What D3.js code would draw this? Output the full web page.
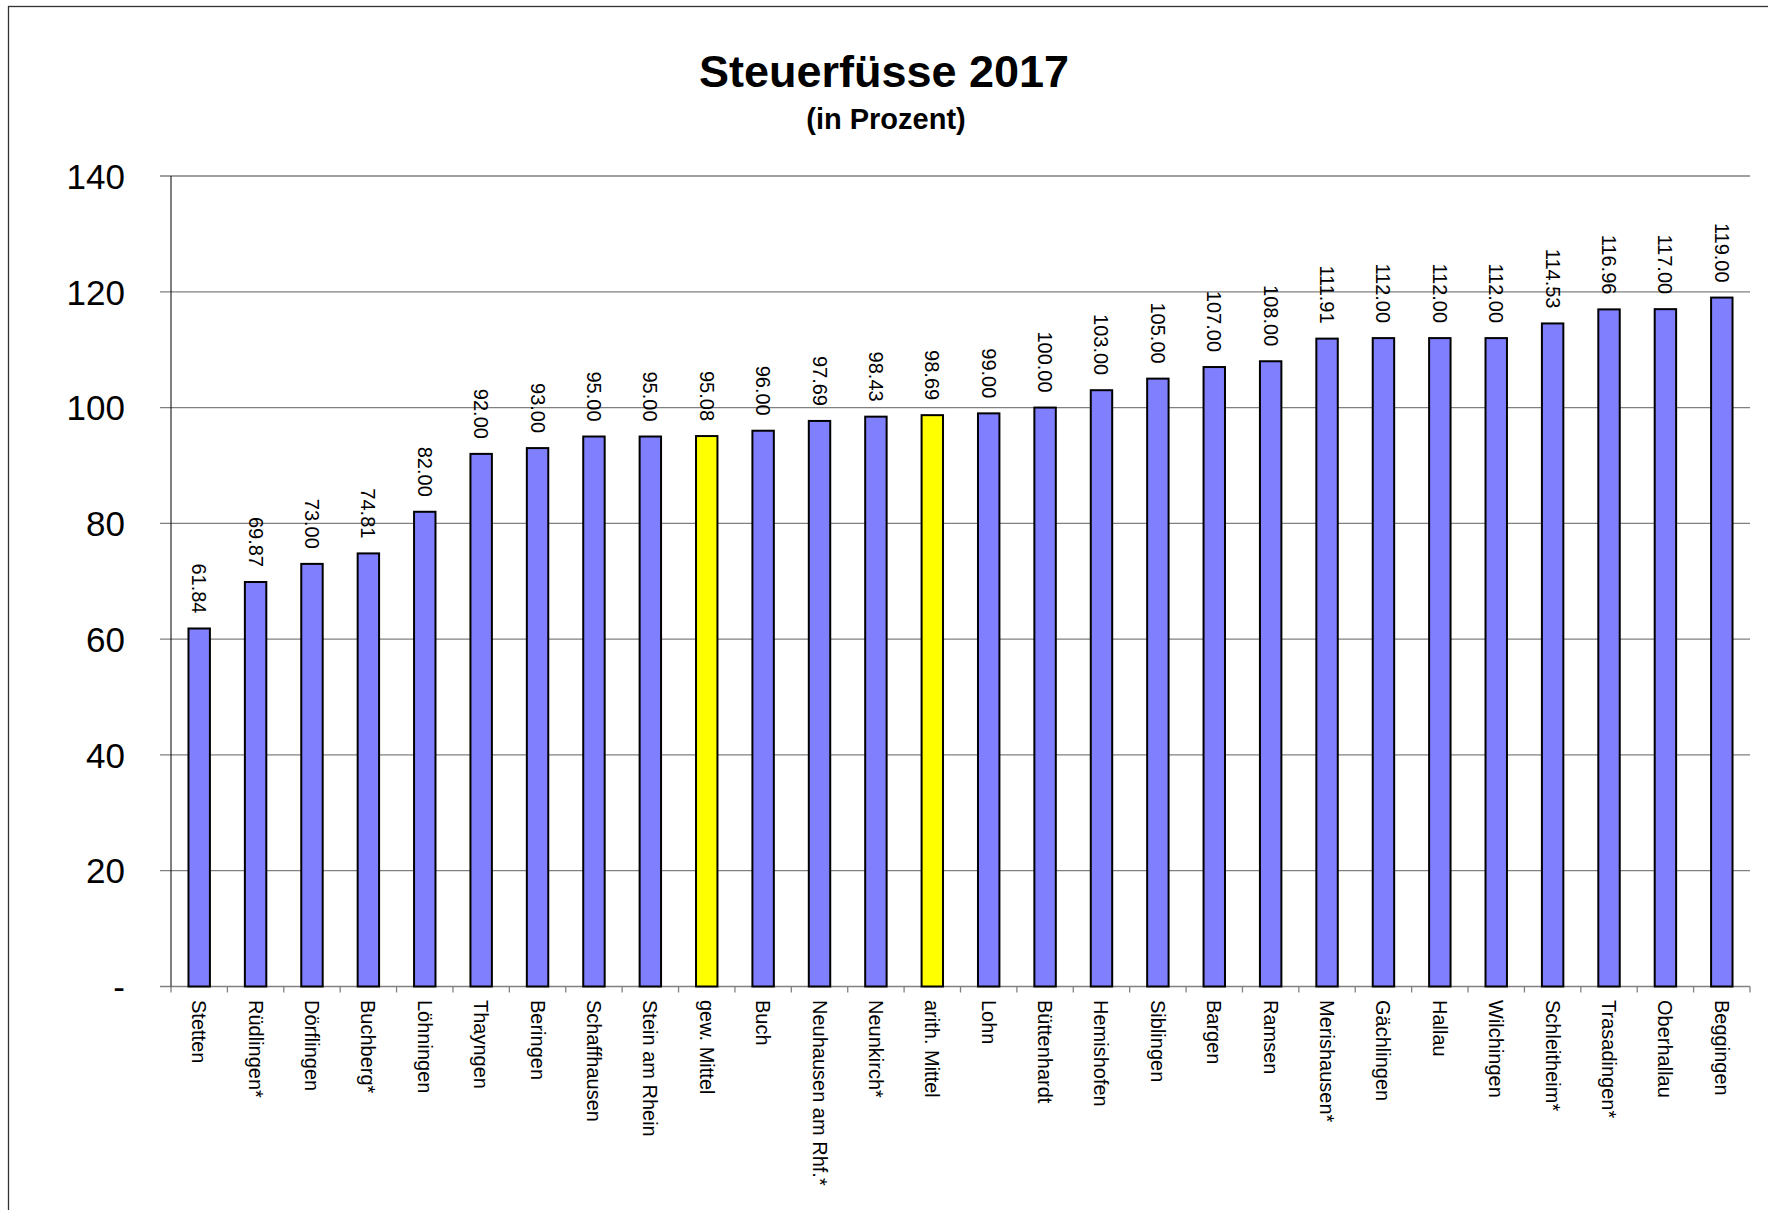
<!DOCTYPE html>
<html>
<head>
<meta charset="utf-8">
<script src="https://cdn.jsdelivr.net/npm/d3@7"></script>
<style>
  body { margin: 0; background: #fff; }
  text { font-family: "Liberation Sans", Arial, sans-serif; fill: #000; }
</style>
</head>
<body>
<svg id="chart" width="1768" height="1210"></svg>
<script>
const gemeinden = [
  "Stetten", "Rüdlingen*", "Dörflingen", "Buchberg*", "Löhningen", "Thayngen",
  "Beringen", "Schaffhausen", "Stein am Rhein", "gew. Mittel", "Buch",
  "Neuhausen am Rhf.*", "Neunkirch*", "arith. Mittel", "Lohn", "Büttenhardt",
  "Hemishofen", "Siblingen", "Bargen", "Ramsen", "Merishausen*", "Gächlingen",
  "Hallau", "Wilchingen", "Schleitheim*", "Trasadingen*", "Oberhallau", "Beggingen"
];
const steuerfuss = [
  61.84, 69.87, 73.00, 74.81, 82.00, 92.00,
  93.00, 95.00, 95.00, 95.08, 96.00,
  97.69, 98.43, 98.69, 99.00, 100.00,
  103.00, 105.00, 107.00, 108.00, 111.91, 112.00,
  112.00, 112.00, 114.53, 116.96, 117.00, 119.00
];
const mittelwerte = ["gew. Mittel", "arith. Mittel"]; // yellow bars
const yTicks = [0, 20, 40, 60, 80, 100, 120, 140];

const svg = d3.select("#chart");

const plotLeft = 171, plotRight = 1750, plotTop = 176, plotBottom = 986.5;

const x = d3.scaleBand().domain(gemeinden).range([plotLeft, plotRight]).padding(0);
const y = d3.scaleLinear().domain([0, 140]).range([plotBottom, plotTop]);

// outer frame (runs off the page on right and bottom)
svg.append("rect")
  .attr("x", 8.5).attr("y", 6.5)
  .attr("width", 1800).attr("height", 1300)
  .attr("fill", "none")
  .attr("stroke", "#333")
  .attr("stroke-width", 1.3);

// title
svg.append("text")
  .attr("x", 884).attr("y", 87)
  .attr("text-anchor", "middle")
  .style("font-size", "45px").style("font-weight", "bold")
  .text("Steuerfüsse 2017");
svg.append("text")
  .attr("x", 886).attr("y", 129)
  .attr("text-anchor", "middle")
  .style("font-size", "29px").style("font-weight", "bold")
  .text("(in Prozent)");

// gridlines
svg.append("g").selectAll("line")
  .data(yTicks)
  .join("line")
  .attr("x1", 160).attr("x2", plotRight)
  .attr("y1", d => y(d)).attr("y2", d => y(d))
  .attr("stroke", "#808080")
  .attr("stroke-width", 1.3);

// y axis labels
const yAxis = d3.axisLeft(y)
  .tickValues(yTicks)
  .tickSize(0)
  .tickPadding(46)
  .tickFormat(d => d === 0 ? "-" : d);
const gy = svg.append("g").attr("transform", `translate(${plotLeft},0)`).call(yAxis);
gy.select(".domain").remove();
gy.selectAll("text")
  .style("font-size", "35px")
  .style("font-family", "'Liberation Sans', Arial, sans-serif")
  .attr("dy", "0.35em");

// y axis line
svg.append("line")
  .attr("x1", plotLeft).attr("x2", plotLeft)
  .attr("y1", plotTop).attr("y2", plotBottom)
  .attr("stroke", "#000").attr("stroke-width", 1);

// x tick marks at band edges
const edges = gemeinden.map(g => x(g)).concat([plotRight]);
svg.append("g").selectAll("line")
  .data(edges)
  .join("line")
  .attr("x1", d => d).attr("x2", d => d)
  .attr("y1", plotBottom).attr("y2", plotBottom + 6)
  .attr("stroke", "#808080").attr("stroke-width", 1.3);

// bars
const barW = x.bandwidth() * 0.38;
svg.append("g").selectAll("rect")
  .data(gemeinden)
  .join("rect")
  .attr("x", (d) => x(d) + (x.bandwidth() - barW) / 2)
  .attr("y", (d, i) => y(steuerfuss[i]))
  .attr("width", barW)
  .attr("height", (d, i) => plotBottom - y(steuerfuss[i]))
  .attr("fill", d => mittelwerte.includes(d) ? "#FFFF00" : "#8080FF")
  .attr("stroke", "#000")
  .attr("stroke-width", 2);

// value labels, rotated
svg.append("g").selectAll("text")
  .data(gemeinden)
  .join("text")
  .attr("transform", (d, i) => {
    const cx = x(d) + x.bandwidth() / 2;
    return `translate(${cx},${y(steuerfuss[i]) - 15}) rotate(90)`;
  })
  .attr("text-anchor", "end")
  .attr("dy", "0.35em")
  .style("font-size", "20px")
  .text((d, i) => steuerfuss[i].toFixed(2));

// category labels, rotated
svg.append("g").selectAll("text")
  .data(gemeinden)
  .join("text")
  .attr("transform", d => `translate(${x(d) + x.bandwidth() / 2},${plotBottom + 13.5}) rotate(90)`)
  .attr("text-anchor", "start")
  .attr("dy", "0.35em")
  .style("font-size", "20px")
  .text(d => d);
</script>
</body>
</html>
